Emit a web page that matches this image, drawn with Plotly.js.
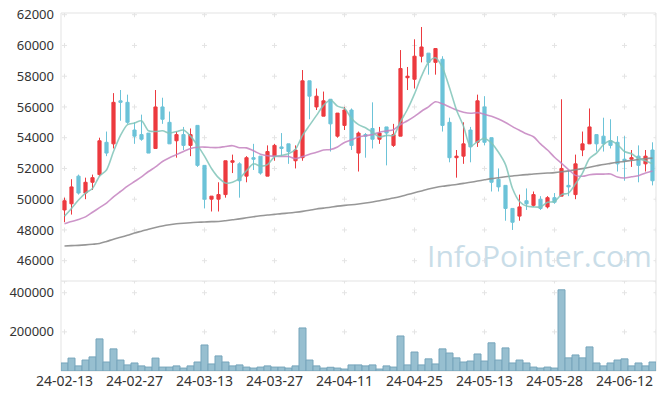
<!DOCTYPE html>
<html>
<head>
<meta charset="utf-8">
<script src="https://cdn.plot.ly/plotly-3.0.1.min.js"></script>
<style>html,body{margin:0;padding:0;background:#fff;}#chart{width:665px;height:399px;}</style>
</head>
<body>
<div id="chart"></div>
<script>
const dates = ["24-02-13","24-02-14","24-02-15","24-02-16","24-02-19","24-02-20","24-02-21","24-02-22","24-02-23","24-02-26","24-02-27","24-02-28","24-02-29",
"24-03-04","24-03-05","24-03-06","24-03-07","24-03-08","24-03-11","24-03-12","24-03-13","24-03-14","24-03-15","24-03-18","24-03-19","24-03-20","24-03-21","24-03-22","24-03-25","24-03-26","24-03-27","24-03-28","24-03-29",
"24-04-01","24-04-02","24-04-03","24-04-04","24-04-05","24-04-08","24-04-09","24-04-11","24-04-12","24-04-15","24-04-16","24-04-17","24-04-18","24-04-19","24-04-22","24-04-23","24-04-24","24-04-25","24-04-26","24-04-29","24-04-30",
"24-05-02","24-05-03","24-05-07","24-05-08","24-05-09","24-05-10","24-05-13","24-05-14","24-05-16","24-05-17","24-05-20","24-05-21","24-05-22","24-05-23","24-05-24","24-05-27","24-05-28","24-05-29","24-05-30","24-05-31",
"24-06-03","24-06-04","24-06-05","24-06-07","24-06-10","24-06-11","24-06-12","24-06-13","24-06-14","24-06-17","24-06-18"];

const openP = [49300,49700,51500,50400,51100,51600,53700,53600,56400,56300,54500,54200,54300,53300,56000,55000,53800,54200,53500,54800,
52200,50000,50000,50300,52400,52300,51500,52700,52800,51500,52800,53400,53600,52500,52700,57700,56000,55400,56500,54100,
54800,55800,53000,54200,54600,53900,54700,53500,54100,57900,57800,59300,59500,58900,59100,55000,52700,52800,54500,53700,
56000,54000,51300,50900,49400,48900,49900,49600,50000,49500,50100,50200,50900,50300,53200,53600,54200,54100,53800,53700,
52600,52600,52800,52300,53200];
const highP = [50100,51300,51600,51400,51600,54000,54400,56900,57100,56800,55000,55500,54300,57100,56600,55700,54400,54700,54600,54800,
52200,50200,51100,52500,52900,52400,52800,53600,52800,53500,53600,54300,53600,53500,58400,57700,57200,57000,56500,55600,
56000,55900,54400,54300,56300,54700,54700,54900,59700,58600,60400,61200,59500,59800,59300,55300,53200,55000,54700,56800,
56700,54000,52000,50900,49400,50300,50700,50500,50200,50200,50400,56500,51900,52900,54400,55900,54200,55300,55200,54100,
54100,53200,53500,53200,53700];
const lowP = [48500,49000,50300,50000,50600,51500,52800,53300,55100,54900,53600,53800,53000,53300,54900,53600,52700,53200,52800,52100,
49400,49200,49200,50100,51700,50100,51100,51900,51600,51500,52500,52800,52300,52000,52500,55200,55800,55400,53100,54000,
54500,53200,51800,52700,53300,53600,52200,53400,54100,57100,57200,58900,58100,58100,54400,52400,51400,52300,52400,53400,
53500,50500,50500,48600,48000,48600,49300,49500,49300,49400,49700,50200,50200,50000,52800,53600,53100,53100,53300,51800,
51200,52100,51100,51800,50900];
const closeP = [49900,50800,50400,51100,51400,53800,53000,56300,56300,55000,54100,53900,53000,56000,55200,53600,54200,53500,54200,52200,
50000,50200,50300,52500,52500,51200,52700,52600,51700,53100,53500,53300,53100,53200,57700,56700,56700,56400,54900,55600,
55800,53500,54300,54100,53900,54300,54300,54200,58500,58000,59300,59900,58900,59800,54800,52700,52800,53600,53400,56400,
53700,51100,50800,49400,48500,49500,49700,50300,49400,50100,49800,52000,50800,52300,53600,54700,53600,53600,53500,52300,
52500,52700,52200,52800,51200];
const volume = [41000,66000,26000,56000,72000,164000,46000,113000,56000,31000,41000,26000,20000,66000,20000,20000,26000,15000,26000,46000,
133000,36000,77000,46000,26000,31000,20000,15000,20000,26000,20000,20000,15000,26000,220000,56000,26000,15000,19000,15000,
10000,31000,31000,26000,31000,10000,26000,20000,179000,31000,97000,31000,62000,36000,113000,92000,67000,46000,51000,87000,
51000,144000,56000,118000,41000,56000,41000,20000,15000,20000,15000,415000,67000,82000,67000,123000,41000,26000,41000,56000,
62000,26000,41000,26000,46000];
const ma5 = [48900,49400,49950,50400,50700,51500,51900,53100,54150,54850,54950,55100,54450,54400,54450,54300,54400,54500,54100,53500,
52800,52000,51400,51050,51100,51350,51850,52300,52150,52250,52750,52850,52950,53250,54150,54800,55450,56100,56450,56050,
55900,55250,54850,54650,54350,54050,54150,54150,55050,55850,56850,58000,58900,59200,58550,57250,55800,54750,53450,53750,
53950,53650,53050,52250,50700,49850,49550,49500,49500,49800,49850,50300,50400,51000,51700,52650,53000,53550,53800,53550,
53100,52950,52650,52500,52300];
const ma20 = [48400,48550,48680,48850,49150,49450,49750,50150,50500,50850,51150,51450,51800,52100,52450,52700,52900,53100,53300,53380,
53390,53360,53360,53430,53480,53350,53340,53150,52930,52830,52800,52780,52780,52640,52770,52920,53050,53200,53230,53400,
53690,53860,54050,54130,54200,54360,54440,54520,54860,55100,55390,55720,56010,56340,56200,56000,55800,55660,55590,55630,
55520,55400,55220,54990,54720,54480,54250,54060,53600,53200,52730,52330,51930,51550,51490,51590,51630,51630,51640,51440,
51380,51460,51530,51700,51840];
const ma60 = [46960,46980,47000,47030,47070,47120,47250,47400,47520,47650,47800,47920,48050,48160,48260,48340,48400,48440,48470,48500,
48520,48540,48550,48600,48660,48720,48790,48860,48920,48970,49010,49060,49100,49150,49210,49280,49360,49420,49480,49550,
49600,49640,49690,49750,49820,49900,49990,50080,50180,50300,50420,50540,50660,50760,50840,50900,50960,51030,51100,51180,
51260,51340,51400,51460,51510,51560,51600,51640,51670,51700,51730,51780,51840,51910,51990,52080,52170,52260,52330,52400,
52460,52520,52580,52630,52670];
const priceTicks = [46000,48000,50000,52000,54000,56000,58000,60000,62000];
const priceTickText = ["46000","48000","50000","52000","54000","56000","58000","60000","62000"];
const volumeTicks = [200000,400000];
const volumeTickText = ["200000","400000"];
const xTickIdx = [0,10,20,30,40,50,60,70,80];

const UP = '#ec3a3f', DOWN = '#6cc3d8';
const split = 90/358;
const font = {family: 'Noto Sans, Open Sans, sans-serif', size: 13, color: '#333'};
const xfont = {family: 'Noto Sans, Open Sans, sans-serif', size: 14, color: '#333'};

const traces = [
  {type:'candlestick', x:dates, open:openP, high:highP, low:lowP, close:closeP, xaxis:'x', yaxis:'y',
   increasing:{line:{color:UP,width:1}, fillcolor:UP}, decreasing:{line:{color:DOWN,width:1}, fillcolor:DOWN},
   whiskerwidth:0, hoverinfo:'skip'},
  {type:'scatter', mode:'lines', x:dates, y:ma60, xaxis:'x', yaxis:'y', line:{color:'rgba(140,140,140,0.9)', width:1.6, shape:'spline', smoothing:0.8}, hoverinfo:'skip'},
  {type:'scatter', mode:'lines', x:dates, y:ma20, xaxis:'x', yaxis:'y', line:{color:'rgba(196,130,192,0.85)', width:1.6, shape:'spline', smoothing:0.8}, hoverinfo:'skip'},
  {type:'scatter', mode:'lines', x:dates, y:ma5, xaxis:'x', yaxis:'y', line:{color:'rgba(128,196,184,0.85)', width:1.6, shape:'spline', smoothing:0.8}, hoverinfo:'skip'},
  {type:'bar', x:dates, y:volume, xaxis:'x', yaxis:'y2', marker:{color:'#97bfd0', line:{color:'#76a5bb', width:1}}, hoverinfo:'skip'}
];

const shapes = [
  {type:'rect', xref:'paper', yref:'paper', x0:0, x1:1, y0:0, y1:1, line:{color:'#e3e3e3', width:1}, layer:'below'},
  {type:'line', xref:'paper', yref:'paper', x0:0, x1:1, y0:split, y1:split, line:{color:'#e3e3e3', width:1}, layer:'below'}
];
const plusCols = xTickIdx.concat([84.5]);
function addPlus(xv, yv, yref) {
  const c = {color:'#e4e4e4', width:1};
  shapes.push({type:'line', xref:'x', yref:yref, xsizemode:'pixel', ysizemode:'pixel', xanchor:xv, yanchor:yv, x0:-2.5, x1:2.5, y0:0, y1:0, line:c, layer:'below'});
  shapes.push({type:'line', xref:'x', yref:yref, xsizemode:'pixel', ysizemode:'pixel', xanchor:xv, yanchor:yv, x0:0, x1:0, y0:-2.5, y1:2.5, line:c, layer:'below'});
}
plusCols.forEach(xv => {
  priceTicks.forEach(p => addPlus(xv, p, 'y'));
  volumeTicks.forEach(v => addPlus(xv, v, 'y2'));
  addPlus(xv, 460000, 'y2');
});

const layout = {
  width:665, height:399,
  margin:{l:61, r:9, t:13, b:28, pad:0},
  paper_bgcolor:'#fff', plot_bgcolor:'#fff',
  showlegend:false, hovermode:false, bargap:0, boxgap:0.35,
  font: font,
  xaxis:{type:'category', range:[-0.5,84.5], anchor:'y2', tickmode:'array',
         tickvals:xTickIdx.map(i => dates[i]), ticktext:xTickIdx.map(i => dates[i]),
         showgrid:false, zeroline:false, showline:false, ticks:'', tickfont:xfont,
         rangeslider:{visible:false}, fixedrange:true},
  yaxis:{domain:[split,1], range:[44680,62110], tickmode:'array', tickvals:priceTicks, ticktext:priceTickText,
         showgrid:false, zeroline:false, showline:false, ticks:'', ticklabelstandoff:6,
         tickfont:font, anchor:'x', fixedrange:true},
  yaxis2:{domain:[0,split], range:[0,460000], tickmode:'array', tickvals:volumeTicks, ticktext:volumeTickText,
          showgrid:false, zeroline:false, showline:false, ticks:'', ticklabelstandoff:6,
          tickfont:font, anchor:'x', fixedrange:true},
  shapes: shapes,
  annotations:[{text:'InfoPointer.com', xref:'paper', yref:'paper', x:0.805, y:0.322,
    xanchor:'center', yanchor:'middle', showarrow:false,
    font:{family:'Open Sans, Noto Sans, sans-serif', size:30, color:'#c9dde8'}}]
};

Plotly.newPlot('chart', traces, layout, {displayModeBar:false, staticPlot:true});
</script>
</body>
</html>
